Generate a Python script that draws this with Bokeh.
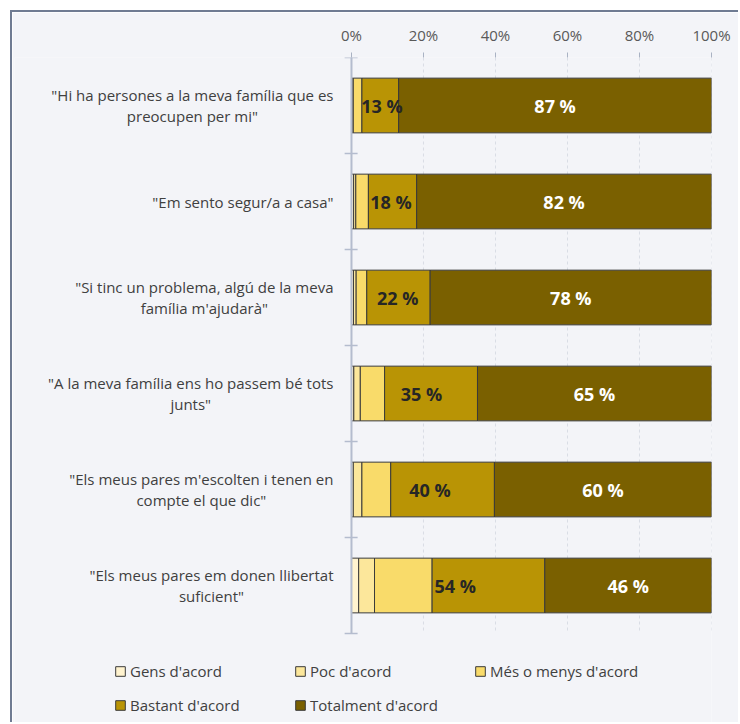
from bokeh.plotting import figure
from bokeh.models import Range1d, FixedTicker, Legend, LegendItem, ColumnDataSource
from bokeh.core.properties import value
from bokeh.embed import file_html
from bokeh.resources import INLINE

# ---------------- data ----------------
statements = [
    '"Hi ha persones a la meva família que es\npreocupen per mi"',
    '"Em sento segur/a a casa"',
    '"Si tinc un problema, algú de la meva\nfamília m\'ajudarà"',
    '"A la meva família ens ho passem bé tots\njunts"',
    '"Els meus pares m\'escolten i tenen en\ncompte el que dic"',
    '"Els meus pares em donen llibertat\nsuficient"',
]
series_names = ["Gens d'acord", "Poc d'acord", "Més o menys d'acord",
                "Bastant d'acord", "Totalment d'acord"]
gens = [0.2, 0.6, 0.55, 0.65, 0.5, 2.0]
poc = [0.3, 0.6, 0.75, 1.8, 2.4, 4.4]
mes = [2.4, 3.5, 2.95, 6.75, 8.0, 16.0]
bastant = [10.2, 13.4, 17.6, 25.8, 28.8, 31.3]
totalment = [86.9, 81.9, 78.15, 65.0, 60.3, 46.3]
tick_values = [0, 20, 40, 60, 80, 100]
tick_labels = ["0%", "20%", "40%", "60%", "80%", "100%"]

colors = ["#FFF3CF", "#FCE79B", "#F9DB6A", "#B99405", "#7A6000"]
BG = "#F3F4F8"
FONT = "Open Sans"
AXIS_COL = "#B4BCCE"

keys = ["gens", "poc", "mes", "bastant", "totalment"]
n = len(statements)
idx = list(range(n))
src = ColumnDataSource(dict(y=idx, gens=gens, poc=poc, mes=mes,
                            bastant=bastant, totalment=totalment))

# frame extends below the bars to host the legend (legend is clipped to the frame)
p = figure(width=728, height=712, output_backend="svg", toolbar_location=None,
           x_range=Range1d(-93.6, 100), y_range=Range1d(n - 0.5 + 0.927, -0.5),
           x_axis_location="above", y_axis_location=None,
           min_border_left=2, min_border_right=29, min_border_top=45,
           min_border_bottom=2)
p.styles = {"border-left": "2px solid #6F7B92", "border-top": "2px solid #6F7B92",
            "margin-left": "10px", "margin-top": "10px"}
p.background_fill_color = BG
p.border_fill_color = BG
p.outline_line_color = None
p.xgrid.grid_line_color = None
p.ygrid.grid_line_color = None

# top axis
ax = p.xaxis[0]
ax.ticker = FixedTicker(ticks=tick_values)
ax.major_label_overrides = {v: l for v, l in zip(tick_values, tick_labels)}
ax.axis_line_color = None
ax.major_tick_out = 5
ax.major_tick_in = 0
ax.major_tick_line_color = "#A9B2C3"
ax.minor_tick_line_color = None
ax.major_label_standoff = 8
ax.major_label_text_font = FONT
ax.major_label_text_font_size = "15px"
ax.major_label_text_color = "#595959"

# vertical dashed gridlines over the bar area
gx = tick_values[1:]
p.segment(x0=gx, x1=gx, y0=[-0.5] * len(gx), y1=[n - 0.5] * len(gx),
          line_color="#D9DDE5", line_width=1, line_dash="3 3")

# bars
rends = p.hbar_stack(keys, y="y", height=0.57, source=src,
                     fill_color=colors, line_color="#3A3A3A", line_width=1)

# left category axis line with ticks between categories
p.segment(x0=[0], x1=[0], y0=[-0.5], y1=[n - 0.5], line_color=AXIS_COL, line_width=2)
bounds = [i - 0.5 for i in range(n + 1)]
p.segment(x0=[-1.9] * len(bounds), x1=[1.7] * len(bounds), y0=bounds, y1=bounds,
          line_color=AXIS_COL, line_width=1.5)

# category labels
p.text(x=[-5] * n, y=idx, text=statements, anchor=value("center_right"),
       text_align="center", text_baseline="middle", text_font=value(FONT),
       text_font_size="15px", text_color="#404040", text_line_height=1.05)

# data labels
left_txt = [f"{round(100 - t)} %" for t in totalment]
right_txt = [f"{round(t)} %" for t in totalment]
left_x = [(100 - t) / 2 for t in totalment]
right_x = [100 - t / 2 for t in totalment]
p.text(x=left_x, y=idx, text=left_txt, x_offset=7, text_align="center",
       text_baseline="middle", text_font=value(FONT), text_font_size="18px",
       text_font_style="bold", text_color="#262626")
p.text(x=right_x, y=idx, text=right_txt, text_align="center",
       text_baseline="middle", text_font=value(FONT), text_font_size="18px",
       text_font_style="bold", text_color="#FFFFFF")

# legend
legend = Legend(items=[LegendItem(label=s, renderers=[r]) for s, r in zip(series_names, rends)],
                orientation="horizontal", ncols=3, location=(100, 7),
                padding=0, margin=0, spacing=14, glyph_width=12, glyph_height=12,
                label_standoff=4, label_width=150, label_height=20,
                label_text_font=FONT, label_text_font_size="15px",
                label_text_color="#404040", border_line_color=None,
                background_fill_alpha=0)
p.add_layout(legend, "center")

open("out.html", "w").write(file_html(p, INLINE))
